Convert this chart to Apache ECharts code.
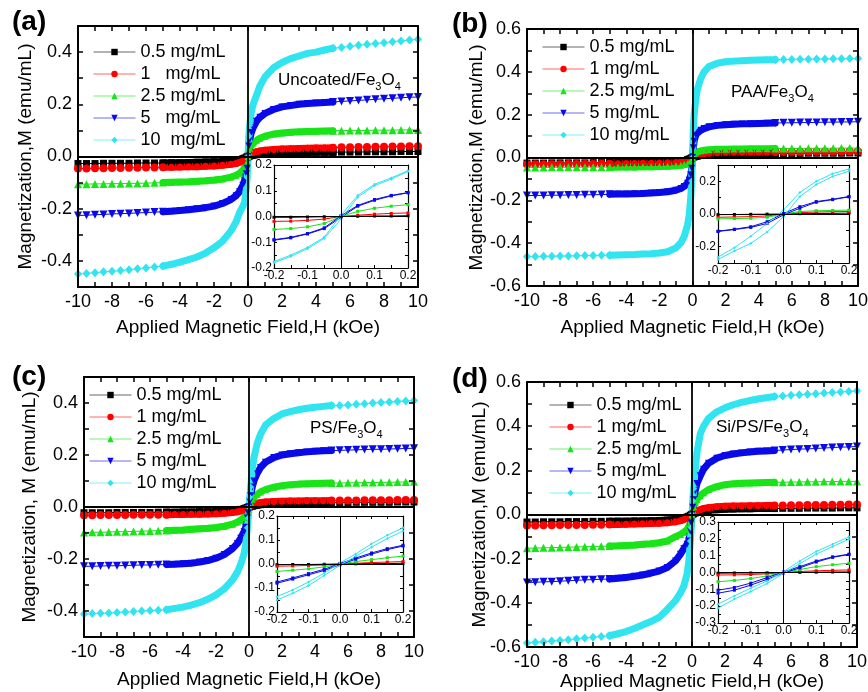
<!DOCTYPE html>
<html><head><meta charset="utf-8">
<script src="https://cdn.jsdelivr.net/npm/echarts@6/dist/echarts.min.js"></script>
<style>html,body{margin:0;padding:0;background:#fff}#c{width:868px;height:692px}</style>
</head><body><div id="c"></div>
<script>
// ---------- field values (kOe) ----------
const H_SPARSE_NEG = [-10,-9.5,-9,-8.5,-8,-7.5,-7,-6.5,-6,-5.5];
const H_DENSE = [-5,-4.5,-4,-3.5,-3,-2.5,-2,-1.5,-1,-0.7,-0.5,-0.3,-0.2,-0.1,-0.05,0,0.05,0.1,0.2,0.3,0.5,0.7,1,1.5,2,2.5,3,3.5,4,4.5,5];
const H_SPARSE_POS = [5.5,6,6.5,7,7.5,8,8.5,9,9.5,10];
const H_INSET = [-0.2,-0.15,-0.1,-0.05,0,0.05,0.1,0.15,0.2];

const NAMES_A = ['0.5 mg/mL','1   mg/mL','2.5 mg/mL','5   mg/mL','10  mg/mL'];
const NAMES_BCD = ['0.5 mg/mL','1 mg/mL','2.5 mg/mL','5 mg/mL','10 mg/mL'];

// ---------- (a) Uncoated/Fe3O4 ----------
const A_BLACK = [-0.027,-0.027,-0.027,-0.026,-0.026,-0.026,-0.026,-0.025,-0.025,-0.025,
 -0.025,-0.024,-0.024,-0.023,-0.022,-0.021,-0.02,-0.019,-0.017,-0.014,-0.012,-0.008,-0.006,-0.003,-0.002,0,
 0.001,0.002,0.004,0.005,0.007,0.008,0.01,0.012,0.013,0.014,0.015,0.015,0.016,0.016,0.016,
 0.017,0.017,0.017,0.018,0.018,0.018,0.018,0.019,0.019,0.019];
const A_RED = [-0.046,-0.046,-0.045,-0.045,-0.044,-0.044,-0.043,-0.043,-0.042,-0.042,
 -0.041,-0.041,-0.04,-0.039,-0.039,-0.037,-0.036,-0.034,-0.03,-0.027,-0.022,-0.017,-0.013,-0.008,-0.005,0,
 0.004,0.007,0.012,0.015,0.018,0.021,0.024,0.027,0.029,0.03,0.031,0.032,0.033,0.033,0.034,
 0.035,0.035,0.036,0.036,0.037,0.037,0.038,0.038,0.039,0.039];
const A_GREEN = [-0.106,-0.106,-0.105,-0.105,-0.104,-0.104,-0.103,-0.103,-0.102,-0.101,
 -0.1,-0.099,-0.098,-0.097,-0.095,-0.093,-0.09,-0.086,-0.079,-0.072,-0.064,-0.052,-0.045,-0.032,-0.02,0,
 0.018,0.032,0.045,0.052,0.062,0.07,0.078,0.086,0.09,0.093,0.095,0.096,0.097,0.098,0.099,
 0.099,0.1,0.1,0.1,0.101,0.101,0.101,0.102,0.102,0.102];
const A_BLUE = [-0.226,-0.225,-0.223,-0.222,-0.22,-0.219,-0.218,-0.216,-0.215,-0.213,
 -0.212,-0.21,-0.207,-0.204,-0.2,-0.196,-0.19,-0.18,-0.165,-0.15,-0.135,-0.11,-0.092,-0.066,-0.045,0,
 0.04,0.065,0.092,0.11,0.135,0.15,0.165,0.18,0.19,0.195,0.2,0.203,0.205,0.207,0.209,
 0.211,0.213,0.215,0.217,0.219,0.221,0.223,0.225,0.227,0.228];
const A_CYAN = [-0.45,-0.448,-0.445,-0.442,-0.44,-0.437,-0.434,-0.43,-0.427,-0.423,
 -0.42,-0.413,-0.405,-0.395,-0.385,-0.37,-0.35,-0.325,-0.285,-0.25,-0.215,-0.19,-0.175,-0.12,-0.08,0,
 0.078,0.12,0.172,0.2,0.235,0.27,0.305,0.34,0.36,0.375,0.385,0.395,0.4,0.408,0.415,
 0.418,0.422,0.426,0.43,0.433,0.436,0.44,0.443,0.446,0.449];
const A_IN_BLACK = [-0.003,-0.003,-0.002,-0.001,0,0.001,0.002,0.002,0.003];
const A_IN_RED = [-0.019,-0.018,-0.015,-0.01,0,0.005,0.009,0.012,0.014];
const A_IN_GREEN = [-0.05,-0.047,-0.04,-0.027,0,0.02,0.032,0.04,0.046];
const A_IN_BLUE_1 = [-0.092,-0.083,-0.068,-0.047,-0.003,0.04,0.063,0.08,0.092];
const A_IN_BLUE_2 = [-0.09,-0.081,-0.066,-0.044,0.003,0.043,0.066,0.082,0.093];
const A_IN_CYAN_1 = [-0.18,-0.155,-0.125,-0.085,-0.01,0.075,0.12,0.145,0.175];
const A_IN_CYAN_2 = [-0.175,-0.15,-0.12,-0.08,0.005,0.082,0.125,0.15,0.178];

// ---------- (b) PAA/Fe3O4 ----------
const B_BLACK = [-0.026,-0.026,-0.026,-0.025,-0.025,-0.025,-0.025,-0.025,-0.024,-0.024,
 -0.024,-0.024,-0.023,-0.023,-0.022,-0.022,-0.021,-0.02,-0.018,-0.016,-0.014,-0.01,-0.007,-0.004,-0.002,0,
 0.002,0.003,0.005,0.007,0.009,0.011,0.013,0.015,0.016,0.017,0.017,0.018,0.018,0.018,0.019,
 0.019,0.019,0.019,0.02,0.02,0.02,0.02,0.02,0.021,0.021];
const B_RED = [-0.032,-0.032,-0.031,-0.031,-0.031,-0.03,-0.03,-0.03,-0.03,-0.029,
 -0.029,-0.029,-0.028,-0.028,-0.027,-0.027,-0.026,-0.025,-0.023,-0.021,-0.019,-0.016,-0.014,-0.01,-0.006,0,
 0.005,0.009,0.012,0.014,0.016,0.018,0.02,0.022,0.023,0.024,0.024,0.025,0.025,0.025,0.026,
 0.026,0.026,0.026,0.027,0.027,0.027,0.027,0.028,0.028,0.028];
const B_GREEN = [-0.047,-0.047,-0.047,-0.046,-0.046,-0.046,-0.046,-0.045,-0.045,-0.045,
 -0.045,-0.044,-0.044,-0.044,-0.043,-0.043,-0.042,-0.041,-0.039,-0.036,-0.033,-0.029,-0.026,-0.021,-0.013,0,
 0.012,0.019,0.024,0.028,0.031,0.034,0.036,0.038,0.039,0.04,0.04,0.041,0.041,0.041,0.042,
 0.042,0.042,0.042,0.043,0.043,0.043,0.043,0.044,0.044,0.044];
const B_BLUE = [-0.178,-0.177,-0.177,-0.176,-0.176,-0.175,-0.175,-0.174,-0.174,-0.173,
 -0.172,-0.171,-0.17,-0.169,-0.168,-0.166,-0.163,-0.16,-0.153,-0.145,-0.135,-0.12,-0.106,-0.08,-0.05,0,
 0.045,0.076,0.105,0.115,0.127,0.135,0.143,0.15,0.153,0.155,0.157,0.158,0.159,0.16,0.161,
 0.162,0.162,0.163,0.163,0.164,0.165,0.165,0.166,0.166,0.167];
const B_CYAN = [-0.462,-0.462,-0.461,-0.461,-0.46,-0.46,-0.459,-0.458,-0.458,-0.457,
 -0.456,-0.455,-0.454,-0.453,-0.451,-0.449,-0.446,-0.44,-0.422,-0.398,-0.368,-0.315,-0.27,-0.18,-0.11,0,
 0.13,0.2,0.27,0.32,0.37,0.4,0.425,0.44,0.447,0.45,0.452,0.454,0.455,0.456,0.457,
 0.458,0.458,0.459,0.459,0.46,0.46,0.461,0.461,0.462,0.462];
const B_IN_BLACK = [-0.004,-0.003,-0.002,-0.001,0,0.002,0.003,0.004,0.005];
const B_IN_RED = [-0.02,-0.018,-0.016,-0.012,0,0.008,0.012,0.014,0.015];
const B_IN_GREEN = [-0.03,-0.028,-0.026,-0.02,0,0.015,0.02,0.022,0.024];
const B_IN_BLUE_1 = [-0.105,-0.093,-0.078,-0.047,0.003,0.045,0.076,0.09,0.107];
const B_IN_BLUE_2 = [-0.107,-0.095,-0.082,-0.058,-0.005,0.035,0.072,0.088,0.105];
const B_IN_CYAN_1 = [-0.264,-0.206,-0.136,-0.058,0.025,0.132,0.2,0.247,0.276];
const B_IN_CYAN_2 = [-0.278,-0.227,-0.18,-0.11,-0.016,0.107,0.18,0.23,0.262];

// ---------- (c) PS/Fe3O4 ----------
const C_BLACK = [-0.022,-0.022,-0.022,-0.022,-0.021,-0.021,-0.021,-0.021,-0.021,-0.02,
 -0.02,-0.02,-0.019,-0.019,-0.018,-0.018,-0.017,-0.015,-0.013,-0.011,-0.009,-0.006,-0.004,-0.002,-0.001,0,
 0.001,0.002,0.003,0.005,0.007,0.009,0.011,0.013,0.014,0.015,0.016,0.016,0.017,0.017,0.017,
 0.017,0.017,0.018,0.018,0.018,0.018,0.018,0.019,0.019,0.019];
const C_RED = [-0.032,-0.032,-0.031,-0.031,-0.031,-0.031,-0.03,-0.03,-0.03,-0.03,
 -0.03,-0.029,-0.029,-0.028,-0.028,-0.027,-0.026,-0.024,-0.021,-0.018,-0.015,-0.011,-0.008,-0.005,-0.003,0,
 0.003,0.005,0.008,0.011,0.014,0.017,0.019,0.021,0.022,0.023,0.023,0.024,0.024,0.024,0.025,
 0.025,0.025,0.025,0.026,0.026,0.026,0.026,0.027,0.027,0.027];
const C_GREEN = [-0.098,-0.097,-0.097,-0.096,-0.095,-0.095,-0.094,-0.093,-0.092,-0.091,
 -0.09,-0.089,-0.088,-0.086,-0.084,-0.082,-0.079,-0.074,-0.066,-0.058,-0.05,-0.04,-0.032,-0.02,-0.011,0,
 0.01,0.018,0.03,0.038,0.049,0.058,0.067,0.076,0.082,0.086,0.088,0.089,0.09,0.091,0.092,
 0.092,0.093,0.093,0.094,0.094,0.095,0.095,0.096,0.096,0.097];
const C_BLUE = [-0.228,-0.228,-0.227,-0.226,-0.226,-0.225,-0.224,-0.223,-0.223,-0.222,
 -0.221,-0.22,-0.218,-0.216,-0.212,-0.206,-0.197,-0.183,-0.16,-0.14,-0.12,-0.095,-0.078,-0.042,-0.022,0,
 0.022,0.043,0.077,0.1,0.13,0.152,0.172,0.19,0.2,0.205,0.209,0.212,0.214,0.216,0.217,
 0.218,0.219,0.22,0.221,0.222,0.222,0.223,0.224,0.225,0.226];
const C_CYAN = [-0.412,-0.41,-0.409,-0.408,-0.406,-0.404,-0.402,-0.4,-0.398,-0.397,
 -0.395,-0.39,-0.385,-0.377,-0.368,-0.355,-0.338,-0.315,-0.28,-0.25,-0.22,-0.18,-0.145,-0.08,-0.043,0,
 0.037,0.077,0.144,0.19,0.245,0.28,0.315,0.34,0.358,0.367,0.374,0.38,0.384,0.387,0.39,
 0.39,0.392,0.395,0.397,0.4,0.402,0.404,0.406,0.408,0.41];
const C_IN_BLACK = [-0.003,-0.002,-0.002,-0.001,0,0.001,0.002,0.002,0.003];
const C_IN_RED = [-0.009,-0.008,-0.006,-0.004,0,0.003,0.006,0.008,0.01];
const C_IN_GREEN = [-0.031,-0.026,-0.02,-0.012,0,0.01,0.018,0.026,0.033];
const C_IN_BLUE_1 = [-0.075,-0.058,-0.04,-0.022,0.002,0.025,0.046,0.064,0.078];
const C_IN_BLUE_2 = [-0.08,-0.063,-0.045,-0.027,-0.003,0.02,0.041,0.06,0.075];
const C_IN_CYAN_1 = [-0.136,-0.108,-0.075,-0.038,0.005,0.042,0.084,0.12,0.151];
const C_IN_CYAN_2 = [-0.15,-0.122,-0.09,-0.048,-0.005,0.032,0.07,0.106,0.137];

// ---------- (d) Si/PS/Fe3O4 ----------
const D_BLACK = [-0.034,-0.034,-0.033,-0.033,-0.033,-0.032,-0.032,-0.032,-0.031,-0.031,
 -0.031,-0.03,-0.03,-0.029,-0.029,-0.028,-0.027,-0.025,-0.022,-0.019,-0.016,-0.011,-0.008,-0.004,-0.002,0,
 0.002,0.004,0.007,0.01,0.013,0.016,0.019,0.022,0.024,0.025,0.026,0.026,0.027,0.027,0.027,
 0.028,0.028,0.028,0.029,0.029,0.029,0.029,0.03,0.03,0.03];
const D_RED = [-0.05,-0.05,-0.049,-0.049,-0.048,-0.048,-0.047,-0.047,-0.046,-0.046,
 -0.045,-0.045,-0.044,-0.043,-0.042,-0.041,-0.04,-0.037,-0.033,-0.028,-0.023,-0.017,-0.013,-0.008,-0.005,0,
 0.004,0.008,0.013,0.017,0.022,0.027,0.031,0.035,0.037,0.038,0.039,0.04,0.04,0.041,0.041,
 0.041,0.042,0.042,0.043,0.043,0.043,0.044,0.044,0.045,0.045];
const D_GREEN = [-0.153,-0.152,-0.151,-0.15,-0.149,-0.148,-0.147,-0.146,-0.145,-0.144,
 -0.143,-0.142,-0.14,-0.138,-0.135,-0.132,-0.128,-0.12,-0.1,-0.09,-0.08,-0.068,-0.06,-0.04,-0.022,0,
 0.02,0.035,0.055,0.068,0.085,0.098,0.113,0.126,0.135,0.139,0.141,0.143,0.144,0.145,0.146,
 0.146,0.147,0.147,0.148,0.148,0.149,0.149,0.15,0.15,0.15];
const D_BLUE = [-0.308,-0.307,-0.305,-0.304,-0.302,-0.3,-0.298,-0.296,-0.295,-0.293,
 -0.292,-0.289,-0.285,-0.28,-0.274,-0.266,-0.256,-0.24,-0.21,-0.18,-0.155,-0.135,-0.12,-0.075,-0.037,0,
 0.033,0.067,0.108,0.14,0.175,0.205,0.232,0.255,0.267,0.274,0.279,0.283,0.286,0.288,0.29,
 0.292,0.294,0.296,0.297,0.299,0.301,0.303,0.305,0.306,0.308];
const D_CYAN = [-0.582,-0.579,-0.576,-0.573,-0.57,-0.567,-0.563,-0.559,-0.556,-0.552,
 -0.549,-0.54,-0.53,-0.516,-0.5,-0.485,-0.466,-0.43,-0.39,-0.355,-0.325,-0.27,-0.215,-0.12,-0.06,0,
 0.062,0.117,0.205,0.28,0.365,0.4,0.435,0.465,0.483,0.497,0.508,0.516,0.523,0.529,0.534,
 0.537,0.54,0.542,0.545,0.547,0.55,0.552,0.555,0.557,0.56];
const D_IN_BLACK = [-0.004,-0.003,-0.003,-0.002,0,0.001,0.002,0.003,0.003];
const D_IN_RED = [-0.015,-0.014,-0.012,-0.008,0,0.006,0.01,0.013,0.015];
const D_IN_GREEN = [-0.055,-0.047,-0.036,-0.02,0,0.018,0.035,0.046,0.055];
const D_IN_BLUE_1 = [-0.105,-0.089,-0.063,-0.03,0.003,0.035,0.068,0.093,0.109];
const D_IN_BLUE_2 = [-0.123,-0.105,-0.075,-0.04,-0.003,0.028,0.062,0.09,0.107];
const D_IN_CYAN_1 = [-0.188,-0.139,-0.093,-0.05,0.005,0.069,0.125,0.168,0.212];
const D_IN_CYAN_2 = [-0.212,-0.158,-0.113,-0.065,-0.005,0.053,0.109,0.154,0.198];

// ---------- styling / layout ----------
const FONT = '"Liberation Sans", Arial, sans-serif';
const COLORS = ['#000000','#ff0000','#18e418','#0a0ae8','#30e4f0'];
const SYMBOLS = ['rect','circle','triangle','path://M0,0L10,0L5,9Z','diamond'];
const SYM_SIZE = [7,8,8,8,[8,9]];

const PANELS = [
 {main:{left:78,top:26,width:340,height:261}, yr:0.5, inset:{left:274,top:165,width:134,height:103}, inY:[0.2,0.05],
  yName:'Magnetization,M (emu/mL)', yGap:43, xGap:31, leg:{left:93,top:43}, names:NAMES_A,
  label:{t:'(a)',left:12,top:8}, annot:{left:278,top:72,p:['Uncoated/Fe','3','O','4']},
  curves:[A_BLACK,A_RED,A_GREEN,A_BLUE,A_CYAN],
  insets:[[A_IN_BLACK],[A_IN_RED],[A_IN_GREEN],[A_IN_BLUE_1,A_IN_BLUE_2],[A_IN_CYAN_1,A_IN_CYAN_2]]},
 {main:{left:527,top:29,width:331,height:257}, yr:0.6, inset:{left:718,top:165,width:131,height:98}, inY:[0.3,0.1],
  yName:'Magnetization,M (emu/mL)', yGap:41, xGap:32, leg:{left:542,top:38}, names:NAMES_BCD,
  label:{t:'(b)',left:452,top:10}, annot:{left:731,top:84,p:['PAA/Fe','3','O','4']},
  curves:[B_BLACK,B_RED,B_GREEN,B_BLUE,B_CYAN],
  insets:[[B_IN_BLACK],[B_IN_RED],[B_IN_GREEN],[B_IN_BLUE_1,B_IN_BLUE_2],[B_IN_CYAN_1,B_IN_CYAN_2]]},
 {main:{left:84,top:377,width:330,height:260}, yr:0.5, inset:{left:277,top:516,width:126,height:96}, inY:[0.2,0.05],
  yName:'Magnetization, M (emu/mL)', yGap:45, xGap:33, leg:{left:89,top:386}, names:NAMES_BCD,
  label:{t:'(c)',left:12,top:363}, annot:{left:310,top:420,p:['PS/Fe','3','O','4']},
  curves:[C_BLACK,C_RED,C_GREEN,C_BLUE,C_CYAN],
  insets:[[C_IN_BLACK],[C_IN_RED],[C_IN_GREEN],[C_IN_BLUE_1,C_IN_BLUE_2],[C_IN_CYAN_1,C_IN_CYAN_2]]},
 {main:{left:527,top:382,width:330,height:265}, yr:0.6, inset:{left:718,top:522,width:131,height:101}, inY:[0.3,0.05],
  yName:'Magnetization,M (emu/mL)', yGap:38, xGap:25, leg:{left:549,top:396}, names:NAMES_BCD,
  label:{t:'(d)',left:452,top:365}, annot:{left:716,top:419,p:['Si/PS/Fe','3','O','4']},
  curves:[D_BLACK,D_RED,D_GREEN,D_BLUE,D_CYAN],
  insets:[[D_IN_BLACK],[D_IN_RED],[D_IN_GREEN],[D_IN_BLUE_1,D_IN_BLUE_2],[D_IN_CYAN_1,D_IN_CYAN_2]]}
];

const H_ALL = H_SPARSE_NEG.concat(H_DENSE, H_SPARSE_POS);

function fmt(interval, every, digits) {
  return function (v) {
    const k = Math.round(v / interval);
    if (k % every !== 0) return '';
    const r = k * interval;
    return (Math.abs(r) < 1e-9 ? 0 : r).toFixed(digits);
  };
}

const grids = [], xAxes = [], yAxes = [], series = [], legends = [], graphics = [];

function addAxes(gi, o) {
  const z = o.inset ? 12 : 3;
  const lw = o.inset ? 1.2 : 2;
  const tl = o.inset ? 3 : 5;
  const base = (pos, min, max, interval, every, digits, showLabel, fs, margin) => ({
    type: 'value', gridIndex: gi, position: pos, min, max, interval, z,
    axisLine: {show: true, onZero: false, lineStyle: {color: '#000', width: lw}},
    axisTick: {show: true, inside: true, length: tl, lineStyle: {color: '#000', width: o.inset ? 1 : 1.5}},
    axisLabel: {show: showLabel, formatter: fmt(interval, every, digits), fontSize: fs, color: '#000',
      fontFamily: FONT, margin, hideOverlap: false, showMinLabel: true, showMaxLabel: true},
    splitLine: {show: false}, minorTick: {show: false}
  });
  const xb = base('bottom', o.xMin, o.xMax, o.xInt, 2, o.xDig, true, o.fs, o.inset ? 2 : 6);
  const xt = base('top', o.xMin, o.xMax, o.xInt, 2, o.xDig, false, o.fs, 6);
  const yl = base('left', o.yMin, o.yMax, o.yInt, 2, 1, true, o.fs, o.inset ? 2 : 6);
  const yr = base('right', o.yMin, o.yMax, o.yInt, 2, 1, false, o.fs, 6);
  if (o.xName) {
    Object.assign(xb, {name: o.xName, nameLocation: 'middle', nameGap: o.xGap, nameMoveOverlap: false,
      nameTextStyle: {fontSize: 19, color: '#000', fontFamily: FONT}});
    Object.assign(yl, {name: o.yName, nameLocation: 'middle', nameGap: o.yGap, nameMoveOverlap: false,
      nameTextStyle: {fontSize: 19, color: '#000', fontFamily: FONT}});
  }
  xAxes.push(xb, xt);
  yAxes.push(yl, yr);
}

function zeroLines(gi, inset) {
  series.push({
    type: 'line', xAxisIndex: 2 * gi, yAxisIndex: 2 * gi, data: [[0, 0]], showSymbol: false, symbol: 'none',
    lineStyle: {width: 0}, silent: true, z: inset ? 11 : 4, animation: false,
    markLine: {silent: true, symbol: ['none', 'none'], label: {show: false}, animation: false, z: inset ? 13 : 5,
      lineStyle: {color: '#000', width: inset ? 1 : 1.8, type: 'solid'}, emphasis: {disabled: true},
      data: [{xAxis: 0}, {yAxis: 0}]}
  });
}

PANELS.forEach(function (p, pi) {
  const gm = 2 * pi, gin = 2 * pi + 1;
  grids.push(Object.assign({show: false, containLabel: false, outerBoundsMode: 'none', z: 0}, p.main));
  grids.push(Object.assign({show: true, backgroundColor: '#fff', borderWidth: 0, containLabel: false,
    outerBoundsMode: 'none', z: 10}, p.inset));
  addAxes(gm, {inset: false, xMin: -10, xMax: 10, xInt: 1, xDig: 0, yMin: -p.yr, yMax: p.yr, yInt: 0.1,
    fs: 18, xName: 'Applied Magnetic Field,H (kOe)', xGap: p.xGap, yName: p.yName, yGap: p.yGap});
  const iy = p.inY;
  addAxes(gin, {inset: true, xMin: -0.2, xMax: 0.2, xInt: 0.05, xDig: 1, yMin: -iy[0], yMax: iy[0], yInt: iy[1], fs: 12});

  // main curves
  p.curves.forEach(function (vals, ci) {
    const pts = H_ALL.map((h, i) => [h, vals[i]]);
    const c = COLORS[ci];
    const common = {type: 'line', name: p.names[ci], xAxisIndex: 2 * gm, yAxisIndex: 2 * gm,
      symbol: SYMBOLS[ci], itemStyle: {color: c}, silent: true, animation: false, z: 2,
      emphasis: {disabled: true}, showSymbol: true};
    series.push(Object.assign({}, common, {data: pts.slice(0, 11), symbolSize: SYM_SIZE[ci],
      lineStyle: {color: c, width: 1}}));
    series.push(Object.assign({}, common, {data: pts.slice(10, 41), symbolSize: 7,
      lineStyle: {color: c, width: 7, join: 'round', cap: 'round'}}));
    series.push(Object.assign({}, common, {data: pts.slice(40), symbolSize: SYM_SIZE[ci],
      lineStyle: {color: c, width: 1}}));
  });
  zeroLines(gm, false);

  // inset curves
  p.insets.forEach(function (branches, ci) {
    const c = COLORS[ci];
    branches.forEach(function (b) {
      series.push({type: 'line', name: p.names[ci], xAxisIndex: 2 * gin, yAxisIndex: 2 * gin,
        data: H_INSET.map((h, i) => [h, b[i]]), symbol: ci === 4 ? 'diamond' : 'rect', symbolSize: 3,
        itemStyle: {color: c}, lineStyle: {color: c, width: 1}, silent: true, animation: false, z: 12,
        emphasis: {disabled: true}});
    });
  });
  zeroLines(gin, true);

  legends.push({left: p.leg.left, top: p.leg.top, orient: 'vertical', padding: 0, itemWidth: 42, itemHeight: 8,
    itemGap: 4, data: p.names, selectedMode: false, lineStyle: {width: 1, opacity: 0.6},
    textStyle: {fontSize: 18, color: '#000', fontFamily: FONT}});

  graphics.push({type: 'text', left: p.label.left, top: p.label.top, z: 20,
    style: {text: p.label.t, fontSize: 28, fontWeight: 'bold', fontFamily: FONT, fill: '#000'}});
  const a = p.annot.p;
  graphics.push({type: 'text', left: p.annot.left, top: p.annot.top, z: 20,
    style: {text: '{a|' + a[0] + '}{s|' + a[1] + '}{a|' + a[2] + '}{s|' + a[3] + '}', fill: '#000',
      rich: {a: {fontSize: 17, fontFamily: FONT, fill: '#000', lineHeight: 24, verticalAlign: 'middle'},
             s: {fontSize: 11, fontFamily: FONT, fill: '#000', lineHeight: 10, verticalAlign: 'bottom'}}}});
});

const chart = echarts.init(document.getElementById('c'), null, {renderer: 'canvas'});
chart.setOption({
  animation: false,
  backgroundColor: '#fff',
  textStyle: {fontFamily: FONT},
  grid: grids, xAxis: xAxes, yAxis: yAxes, legend: legends, series: series, graphic: graphics
});
</script></body></html>
